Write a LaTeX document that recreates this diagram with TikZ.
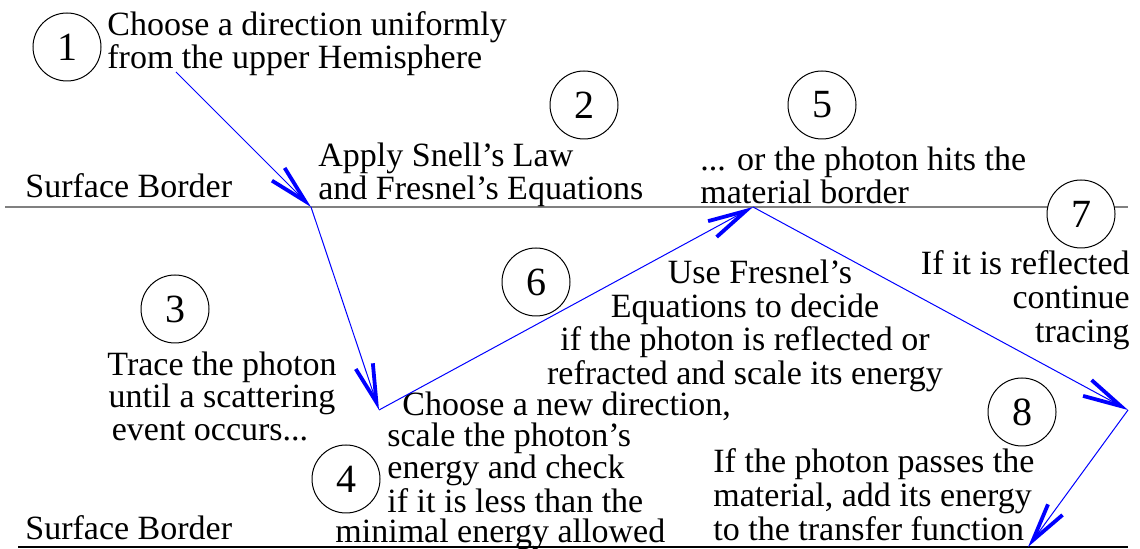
\documentclass[tikz,border=0pt]{standalone}
\usepackage{fontspec}
\setmainfont{Liberation Serif}
\usetikzlibrary{arrows.meta, positioning}
\definecolor{photonblue}{RGB}{0,0,255}
\definecolor{bordergray}{RGB}{128,128,128}

\begin{document}
\begin{tikzpicture}[x=0.5pt, y=-0.5pt,
  stepnum/.style={draw, circle, minimum size=34pt, inner sep=0pt, line width=0.5pt, fill=white, font=\fontsize{20}{20}\selectfont},
  note/.style={inner sep=0pt, font=\fontsize{17}{16.5}\selectfont},
  ray/.style={photonblue, line width=0.5pt, -{Straight Barb[length=19pt, width=9pt, line width=1.9pt]}}]

\useasboundingbox (0,0) rectangle (1140,549);

% === surface borders ===
\coordinate (topL) at (5,207);
\coordinate (topR) at (1128,207);
\coordinate (botL) at (18,547);
\coordinate (botR) at (1128,547);
\draw[bordergray, line width=1pt] (topL) -- (topR);
\draw[black, line width=0.8pt] (botL) -- (botR);

\node[note, anchor=base west] (surftop) at (25,198) {Surface Border};
\node[note, anchor=base west] (surfbot) at (25,540) {Surface Border};

% === step numbers ===
\foreach \n/\x/\y in {1/67/47, 2/584/105, 3/175/309, 4/346/479, 5/822/105, 6/536/282, 7/1081/214, 8/1022/412} {
    \node[stepnum] (n\n) at (\x,\y) {\n};
}

% === step texts ===
\node[note, anchor=west, align=left] (t1) at (107,44) {Choose a direction uniformly\\from the upper Hemisphere};
\node[note, anchor=west, align=left, font=\fontsize{17}{14.5}\selectfont] (t2) at (318,175) {Apply Snell's Law\\and Fresnel's Equations};
\node[note, align=center, font=\fontsize{17}{16.25}\selectfont] (t3) at (222,396) {Trace the photon\\until a scattering\\event occurs...\hspace*{12pt}};
\node[note, anchor=west, align=left, font=\fontsize{17}{15.25}\selectfont] (t4) at (335,471) {\hspace*{33.5pt}Choose a new direction,\\\hspace*{26pt}scale the photon's\\\hspace*{26pt}energy and check\\\hspace*{26pt}if it is less than the\\minimal energy allowed};
\node[note, anchor=west, align=left, font=\fontsize{17}{14.5}\selectfont] (t5) at (700,175) {... or the photon hits the\\material border};
\node[note, align=center, font=\fontsize{17}{16.8}\selectfont] (t6) at (745,326) {\hspace*{15pt}Use Fresnel's\\Equations to decide\\if the photon is reflected or\\refracted and scale its energy};
\node[note, anchor=east, align=right, font=\fontsize{17}{17}\selectfont] (t7) at (1130,300) {If it is reflected\\continue\\tracing};
\node[note, anchor=west, align=left, font=\fontsize{17}{17}\selectfont] (t8) at (713,495) {If the photon passes the\\material, add its energy\\to the transfer function};

% === photon path ===
\coordinate (p0) at (176,72);
\coordinate (p1) at (311,207);
\coordinate (p2) at (379,410);
\coordinate (p3) at (753,207);
\coordinate (p4) at (1128,410);
\coordinate (p5) at (1028,547);
\foreach \a/\b in {p0/p1, p1/p2, p2/p3, p3/p4, p4/p5} {
    \draw[ray] (\a) -- (\b);
}

\end{tikzpicture}
\end{document}
